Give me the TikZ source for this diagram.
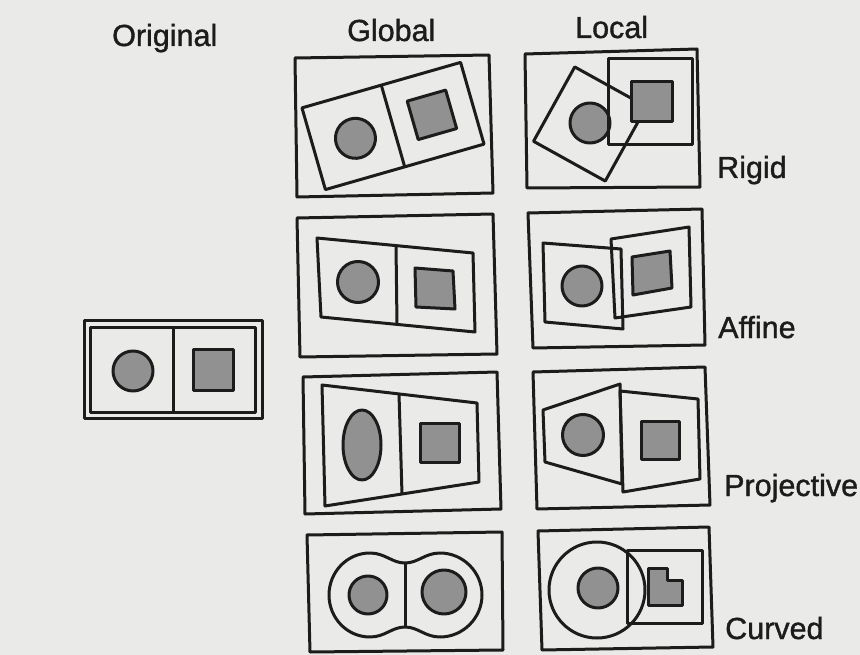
\documentclass[tikz,border=0pt]{standalone}
\usepackage{fontspec}
\setmainfont{Liberation Sans}
\newfontfamily\lblfont{Liberation Sans}[FakeBold=1.2]
\definecolor{ink}{RGB}{28,28,28}
\definecolor{shade}{RGB}{145,145,145}
\definecolor{paper}{RGB}{234,234,232}
\begin{document}
\begin{tikzpicture}[x=1pt,y=-1pt,
  frame/.style={draw=ink, line width=3pt, line join=round},
  obj/.style={draw=ink, fill=shade, line width=3pt, line join=round},
  lbl/.style={font=\lblfont\fontsize{30.5}{36}\selectfont, text=ink, anchor=base west, inner sep=0pt}]
\fill[paper] (0,0) rectangle (860,655);
\useasboundingbox (0,0) rectangle (860,655);

% labels
\node[lbl] (tOrig) at (112,46) {Original};
\node[lbl] (tGlob) at (347,41) {Global};
\node[lbl] (tLoc)  at (575,38) {Local};
\node[lbl] (tRig)  at (717,178) {Rigid};
\node[lbl] (tAff)  at (718,338) {Affine};
\node[lbl] (tProj) at (724,496) {Projective};
\node[lbl] (tCur)  at (725,639) {Curved};

% ---------- Original ----------
\draw[frame] (84,320) rectangle (262,418);
\draw[frame] (90,327) rectangle (255,412);
\draw[frame] (173,327) -- (173,412);
\draw[obj] (133,371) circle (20);
\draw[obj] (193,349) rectangle (233,390);

% ---------- Global rigid ----------
\draw[frame] (295,58) -- (489,55) -- (493,193) -- (297,197) -- cycle;
\begin{scope}[shift={(393,126)}, rotate=16]
  \draw[frame] (-82.5,-42.5) rectangle (82.5,42.5);
  \draw[frame] (0,-42.5) -- (0,42.5);
  \draw[obj] (-39.5,1.5) circle (20);
  \draw[obj] (20.5,-20) rectangle (60.5,20);
\end{scope}

% ---------- Local rigid ----------
\draw[frame] (525,54) -- (697,49) -- (700,187) -- (527,188) -- cycle;
\begin{scope}[shift={(590,124)}, rotate=-29]
  \draw[frame] (-41,-42.5) rectangle (41,42.5);
\end{scope}
\draw[obj] (590,123) circle (20);
\draw[frame] (608,59) rectangle (692,145);
\draw[obj] (631,82) rectangle (672,122);

% ---------- Global affine ----------
\draw[frame] (297,218) -- (493,214) -- (497,354) -- (300,357) -- cycle;
\draw[frame] (317,238) -- (473,253) -- (475,332) -- (321,317) -- cycle;
\draw[frame] (396,245.6) -- (397,324.4);
\draw[obj] (358,282) circle (20.5);
\draw[obj] (415,268) -- (453,271) -- (455,309) -- (416,307) -- cycle;

% ---------- Local affine ----------
\draw[frame] (528,213) -- (702,209) -- (705,345) -- (533,348) -- cycle;
\draw[frame] (543,243) -- (621,249) -- (623,329) -- (545,322) -- cycle;
\draw[obj] (582,286) circle (20);
\draw[frame] (611,239) -- (689,227) -- (691,307) -- (615,318) -- cycle;
\draw[obj] (632,257) -- (670,251) -- (672,288) -- (633,295) -- cycle;

% ---------- Global projective ----------
\draw[frame] (303,377) -- (497,372) -- (501,509) -- (305,514) -- cycle;
\draw[frame] (322,385) -- (477,403) -- (479,482) -- (325,506) -- cycle;
\draw[frame] (399,393.9) -- (402,494);
\draw[obj] (362,445) ellipse [x radius=19, y radius=35];
\draw[obj] (420,423) rectangle (459,462);

% ---------- Local projective ----------
\draw[frame] (533,372) -- (705,367) -- (710,505) -- (537,509) -- cycle;
\draw[frame] (543,410) -- (620,384) -- (622,484) -- (545,462) -- cycle;
\draw[frame] (620,391) -- (698,399) -- (700,479) -- (623,492) -- cycle;
\draw[obj] (583,435) circle (20.5);
\draw[obj] (641,421) rectangle (679,459);

% ---------- Global curved ----------
\draw[frame] (307,535) -- (502,532) -- (503,650) -- (310,652) -- cycle;
\draw[frame] (405,563) .. controls (392,563) and (385,553) .. (370,553)
  .. controls (347,553) and (329,572) .. (329,595)
  .. controls (329,618) and (347,637) .. (370,637)
  .. controls (385,637) and (392,627) .. (405,627)
  .. controls (418,627) and (425,637) .. (440,637)
  .. controls (463,637) and (482,618) .. (482,595)
  .. controls (482,572) and (463,553) .. (440,553)
  .. controls (425,553) and (418,563) .. (405,563) -- cycle;
\draw[frame] (405,563) -- (405,627);
\draw[obj] (368,595) circle (19);
\draw[obj] (444,592) circle (22);

% ---------- Local curved ----------
\draw[frame] (538,531) -- (709,527) -- (713,647) -- (542,650) -- cycle;
\draw[frame] (597,590) circle (48);
\draw[frame] (627,550) rectangle (702,623);
\draw[obj] (598,588) circle (20);
\draw[obj] (648,568) -- (667,568) -- (667,580) -- (682,580) -- (682,605) -- (648,605) -- cycle;
\end{tikzpicture}
\end{document}
